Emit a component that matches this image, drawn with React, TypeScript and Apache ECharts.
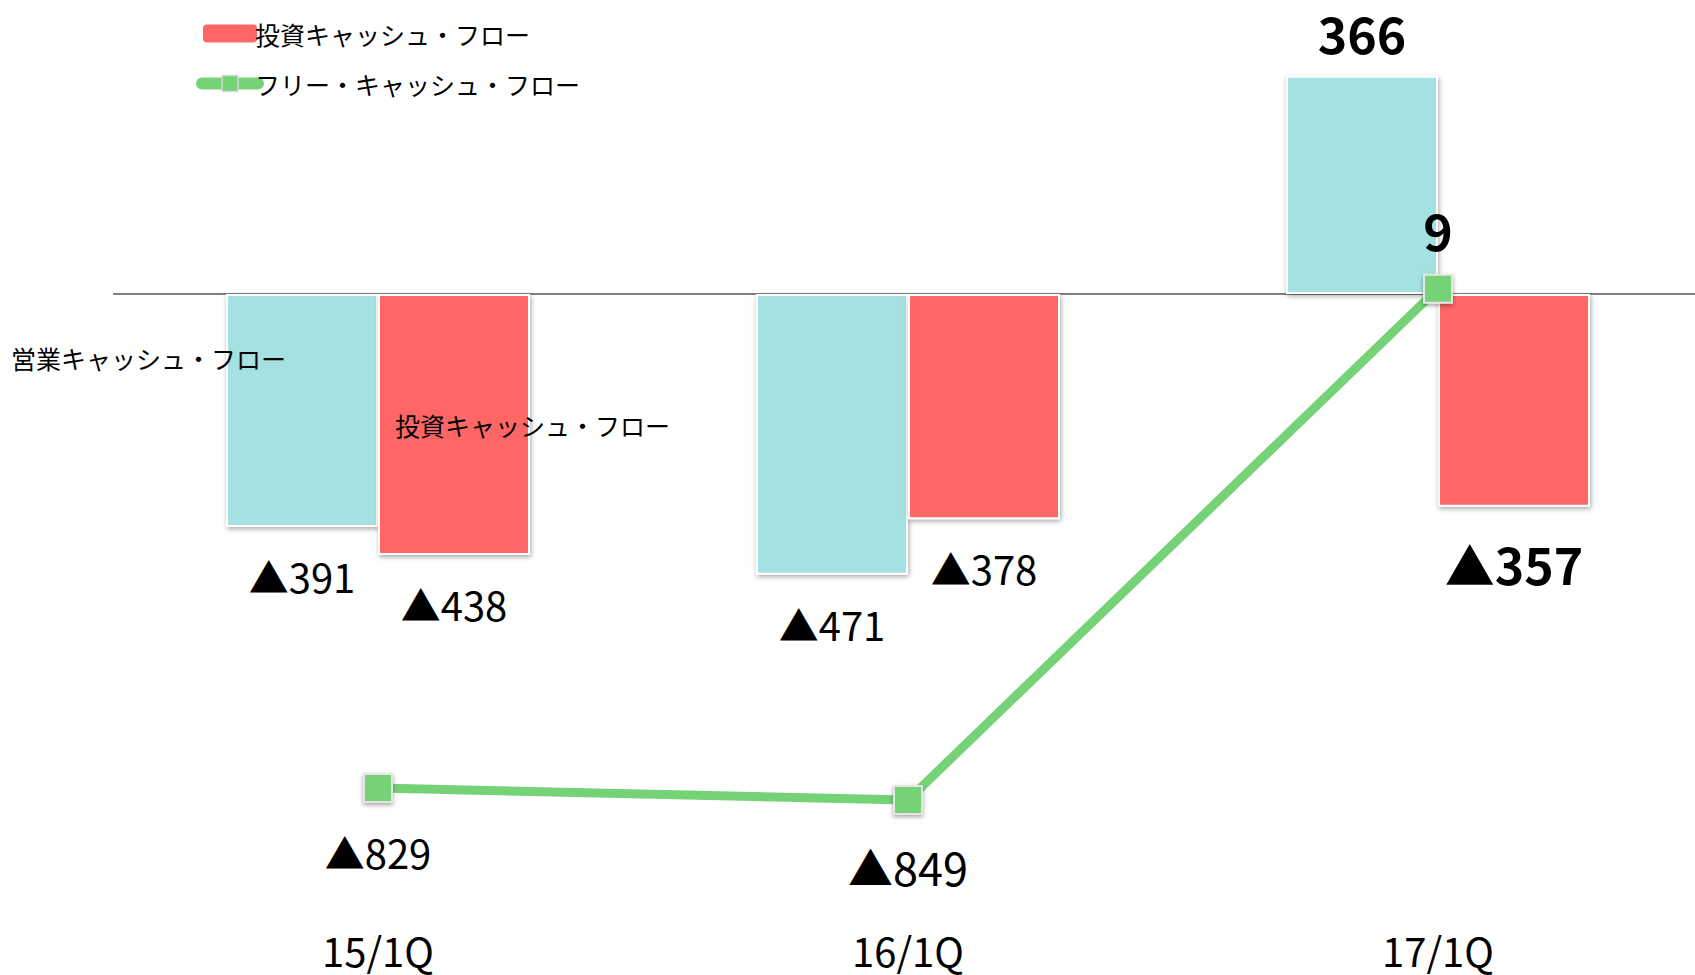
import React, { useEffect, useRef } from 'react';
import * as echarts from 'echarts';

const categories = ['15/1Q', '16/1Q', '17/1Q'];
const operatingCF = [-391, -471, 366];
const investingCF = [-438, -378, -357];
const freeCF = [-829, -849, 9];
const operatingName = '営業キャッシュ・フロー';
const investingName = '投資キャッシュ・フロー';
const freeName = 'フリー・キャッシュ・フロー';

const FONT = '"Noto Sans CJK JP", "Noto Sans", sans-serif';
const TEAL = '#a5e1e0';
const RED = '#ff6666';
const GREEN = '#75d277';

const fmt = (v: number) => (v < 0 ? '▲' + Math.abs(v) : String(v));

export default function App() {
  const ref = useRef<HTMLDivElement>(null);
  useEffect(() => {
    if (!ref.current) return;
    const chart = echarts.init(ref.current, undefined, { renderer: 'svg' });
    const lastIdx = categories.length - 1;

    const barLabel = (v: number, i: number) => {
      const bold = i === lastIdx;
      return {
        show: true,
        position: v < 0 ? 'bottom' : 'top',
        distance: bold ? (v < 0 ? 31 : 19) : 29,
        fontSize: bold ? 50 : 40,
        fontWeight: bold ? 'bold' : 'normal',
        color: '#000',
        fontFamily: FONT,
        formatter: () => fmt(v),
      };
    };

    const barStyle = (color: string) => ({
      color,
      borderColor: '#ffffff',
      borderWidth: 2,
      shadowBlur: 5,
      shadowColor: 'rgba(0,0,0,0.35)',
      shadowOffsetX: 1,
      shadowOffsetY: 2,
    });

    const option: any = {
      animation: false,
      backgroundColor: '#ffffff',
      textStyle: { fontFamily: FONT },
      grid: {
        left: 113,
        width: 1590,
        top: 55.6,
        height: 834.4,
        containLabel: false,
        outerBoundsMode: 'none',
      },
      legend: {
        data: [
          { name: investingName },
          {
            name: freeName,
            lineStyle: { width: 12, cap: 'round', color: GREEN },
            itemStyle: { color: GREEN, borderColor: '#d8d8d8', borderWidth: 1.5, shadowBlur: 0 },
          },
        ],
        orient: 'vertical',
        left: 196,
        top: 21,
        padding: 0,
        itemWidth: 56,
        itemHeight: 20,
        itemGap: 25,
        selectedMode: false,
        textStyle: { fontSize: 25, color: '#000', fontFamily: FONT, padding: [0, 0, 0, -8] },
      },
      xAxis: {
        type: 'category',
        data: categories,
        axisLine: { show: false, onZero: false },
        axisTick: { show: false },
        axisLabel: { fontSize: 40, color: '#000', margin: 40, fontFamily: FONT },
      },
      yAxis: {
        type: 'value',
        min: -1000,
        max: 400,
        show: false,
        splitLine: { show: false },
      },
      series: [
        {
          name: operatingName,
          type: 'bar',
          barWidth: 152,
          barGap: '0%',
          itemStyle: barStyle(TEAL),
          data: operatingCF.map((v, i) => ({ value: v, label: barLabel(v, i) })),
          markLine: {
            silent: true,
            symbol: 'none',
            label: { show: false },
            lineStyle: { color: '#7f7f7f', width: 2, type: 'solid' },
            data: [{ yAxis: 0 }],
            z: 1,
          },
        },
        {
          name: investingName,
          type: 'bar',
          barWidth: 152,
          barGap: '0%',
          itemStyle: barStyle(RED),
          data: investingCF.map((v, i) => ({ value: v, label: barLabel(v, i) })),
        },
        {
          name: freeName,
          type: 'line',
          z: 5,
          symbol: 'rect',
          symbolSize: 28,
          lineStyle: { color: GREEN, width: 9 },
          itemStyle: {
            color: GREEN,
            borderColor: '#e6e6e6',
            borderWidth: 2,
            shadowBlur: 4,
            shadowColor: 'rgba(0,0,0,0.35)',
            shadowOffsetY: 2,
          },
          data: freeCF.map((v, i) => {
            const bold = i === lastIdx;
            const big = v === -849;
            return {
              value: v,
              label: {
                show: true,
                position: bold ? 'top' : 'bottom',
                distance: bold ? 20 : 29,
                fontSize: bold ? 50 : big ? 45 : 40,
                fontWeight: bold ? 'bold' : 'normal',
                color: '#000',
                fontFamily: FONT,
                formatter: () => fmt(v),
              },
            };
          }),
        },
      ],
      graphic: [
        {
          type: 'text',
          left: 11,
          top: 345,
          z: 100,
          style: { text: operatingName, fontSize: 25, fill: '#000', fontFamily: FONT },
        },
        {
          type: 'text',
          left: 395,
          top: 412,
          z: 100,
          style: { text: investingName, fontSize: 25, fill: '#000', fontFamily: FONT },
        },
      ],
    };
    chart.setOption(option);
    return () => chart.dispose();
  }, []);
  return (
    <div
      ref={ref}
      style={{ position: 'fixed', left: 0, top: 0, width: 1695, height: 975, background: '#fff' }}
    />
  );
}
